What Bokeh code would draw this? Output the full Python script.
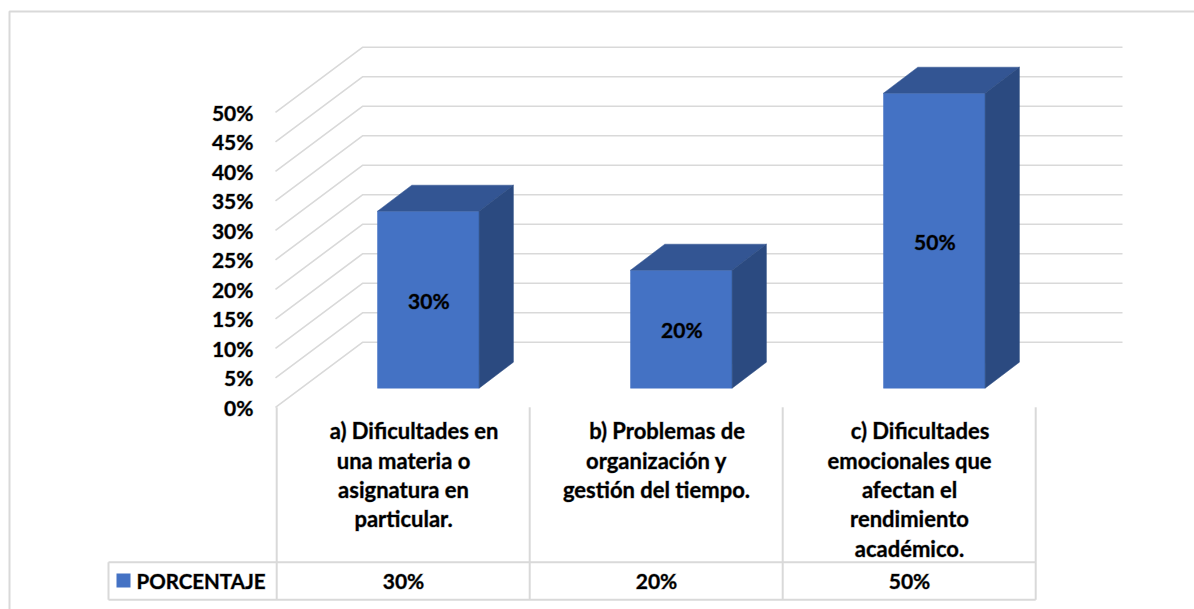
from bokeh.plotting import figure
from bokeh.models import LinearAxis, FixedTicker, Range1d, BoxAnnotation, PrintfTickFormatter
from bokeh.core.properties import value
from bokeh.embed import file_html
from bokeh.resources import INLINE

# --- data ---
series_name = "PORCENTAJE"
values = [30, 20, 50]
value_labels = ["30%", "20%", "50%"]
y_ticks = [0, 5, 10, 15, 20, 25, 30, 35, 40, 45, 50]
category_lines = [
    ["a) Dificultades en", "una materia o", "asignatura en", "particular."],
    ["b) Problemas de", "organización y", "gestión del tiempo."],
    ["c) Dificultades", "emocionales que", "afectan el", "rendimiento", "académico."],
]

# --- layout ---
W, H = 1194, 609
PXX, PXY = 253.0, 5.9          # pixels per category / per percent point
X0_IMG, Y0_IMG = 403.0, 406.8  # screen position of category 0 / 0 %
FONT = value("Lato")
FRONT, TOP, SIDE = "#4472C4", "#335593", "#2B4A80"
GRID = "#D9D9D9"
NUM_SIZE = "21px"
CAT_SIZE = "22px"
HALO = "#00000055"

xpx = lambda px: px / PXX
ypx = lambda px: px / PXY

p = figure(
    width=W, height=H, output_backend="svg", toolbar_location=None,
    x_range=Range1d((0 - X0_IMG) / PXX, (W - X0_IMG) / PXX),
    y_range=Range1d((Y0_IMG - H) / PXY, Y0_IMG / PXY),
    min_border=0, outline_line_color=None, x_axis_location=None, y_axis_location=None,
)
p.grid.visible = False

# outer chart border (open to the right and bottom of the window)
p.add_layout(BoxAnnotation(left=xpx(9 - X0_IMG), right=xpx(W + 20 - X0_IMG),
                           top=ypx(Y0_IMG - 11), bottom=ypx(Y0_IMG - H - 20),
                           fill_alpha=0, line_color=GRID, line_alpha=1, line_width=2,
                           level="underlay"))

# gridlines of the floor edge and back wall
wall_front = xpx(275 - X0_IMG)
wall_back = xpx(362 - X0_IMG)
wall_right = xpx(1122 - X0_IMG)
wall_rise = ypx(65)
p.multi_line(
    xs=[[wall_front, wall_back, wall_right] for _ in y_ticks],
    ys=[[t, t + wall_rise, t + wall_rise] for t in y_ticks],
    line_color=GRID, line_width=1.6,
)

# 3-D bars
half = xpx(50.8)
sx, sy = xpx(24.8), ypx(19.1)       # front face sits this far into the floor
dx, dy = xpx(34.3), ypx(26)         # bar depth
cats = list(range(len(values)))
lefts = [c + sx - half for c in cats]
rights = [c + sx + half for c in cats]
face_bottom = [sy for _ in cats]
face_top = [v + sy for v in values]
p.quad(left=lefts, right=rights, bottom=face_bottom, top=face_top,
       fill_color=FRONT, line_color=FRONT, line_width=0.5)
p.patches(
    xs=[[l, r, r + dx, l + dx] for l, r in zip(lefts, rights)],
    ys=[[t, t, t + dy, t + dy] for t in face_top],
    fill_color=TOP, line_color=TOP, line_width=0.5,
)
p.patches(
    xs=[[r, r + dx, r + dx, r] for r in rights],
    ys=[[b, b + dy, t + dy, t] for b, t in zip(face_bottom, face_top)],
    fill_color=SIDE, line_color=SIDE, line_width=0.5,
)

TEXT = dict(text_font=FONT, text_font_style="bold", text_baseline="middle",
            text_color="#000000", text_outline_color=HALO)

# value labels on the bars
p.text(
    x=[c + sx + xpx(0.5) for c in cats],
    y=[(b + t) / 2 - ypx(0.5) for b, t in zip(face_bottom, face_top)],
    text=value_labels, text_font_size=NUM_SIZE, text_align="center", **TEXT,
)

# data table under the chart
tbl_top, tbl_bot = ypx(Y0_IMG - 561.7), ypx(Y0_IMG - 599.3)
col_left = -0.5 + xpx(-0.3)
tbl_x0 = xpx(108 - X0_IMG)
seps = [col_left + i for i in range(4)]
p.multi_line(
    xs=[[s, s] for s in seps] + [[tbl_x0, seps[-1]], [tbl_x0, seps[-1]], [tbl_x0, tbl_x0]],
    ys=[[0, tbl_bot] for _ in seps] + [[tbl_top, tbl_top], [tbl_bot, tbl_bot], [tbl_top, tbl_bot]],
    line_color=GRID, line_width=2,
)
row_mid = ypx(Y0_IMG - 580)
p.text(x=cats, y=[row_mid] * 3, text=value_labels, text_font_size=NUM_SIZE, text_align="center", **TEXT)
p.text(x=[xpx(136 - X0_IMG)], y=[row_mid], text=[series_name], text_font_size="20.5px",
       text_align="left", **TEXT)
p.quad(left=[xpx(116 - X0_IMG)], right=[xpx(130 - X0_IMG)],
       top=[ypx(Y0_IMG - 573)], bottom=[ypx(Y0_IMG - 587)],
       fill_color=FRONT, line_color=None)

# category labels, first line nudged as in the source
xs, ys, txt, off = [], [], [], []
line_y = [430, 459.6, 489, 518, 548]
for c, lines in enumerate(category_lines):
    for i, line in enumerate(lines):
        xs.append(c)
        ys.append(ypx(Y0_IMG - line_y[i]))
        txt.append(line)
        off.append(10.5 if i == 0 else 0)
p.text(x=xs, y=ys, text=txt, x_offset=off, text_font_size=CAT_SIZE, text_align="center", **TEXT)

# value axis drawn on the wall's front edge
axis = LinearAxis(
    fixed_location=wall_front,
    ticker=FixedTicker(ticks=y_ticks),
    formatter=PrintfTickFormatter(format="%d%%"),
    axis_line_color=None, major_tick_line_color=None, minor_tick_line_color=None,
    major_label_text_font="Lato", major_label_text_font_style="bold",
    major_label_text_font_size=NUM_SIZE, major_label_text_color="#000000",
    major_label_text_outline_color=HALO,
    major_label_standoff=16,
)
p.add_layout(axis, "left")

open("out.html", "w").write(file_html(p, INLINE))
